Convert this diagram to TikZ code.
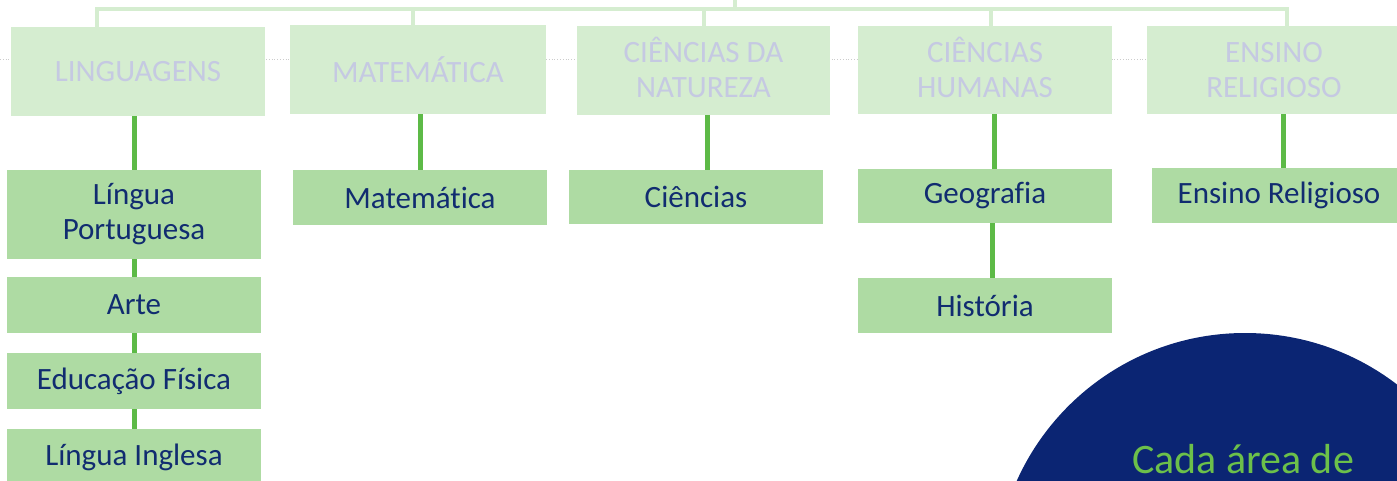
\documentclass[tikz,border=0pt]{standalone}
\usepackage{fontspec}
\setmainfont{Carlito}[Ligatures=NoCommon]
\definecolor{topfill}{HTML}{D5EDD0}
\definecolor{toptext}{HTML}{C5C9E2}
\definecolor{childfill}{HTML}{AEDBA3}
\definecolor{childtext}{HTML}{112C70}
\definecolor{conn}{HTML}{5DBA47}
\definecolor{navy}{HTML}{0B2573}
\definecolor{cadagreen}{HTML}{6CC04A}
\tikzset{
  topbox/.style={rectangle, fill=topfill, inner sep=0pt, align=center, text=toptext,
    minimum width=254pt, minimum height=89pt, font=\fontsize{31}{35}\selectfont},
  childbox/.style={rectangle, fill=childfill, inner sep=0pt, align=center, text=childtext,
    minimum width=254pt, font=\fontsize{31}{35}\selectfont},
  topline/.style={draw=topfill, line width=3.5pt},
  greenline/.style={draw=conn, line width=5pt},
  dotline/.style={draw=black!20, line width=0.8pt, dotted}
}
\begin{document}
\begin{tikzpicture}[x=1pt,y=-1pt]
\useasboundingbox (0,0) rectangle (1397,481);
\clip (0,0) rectangle (1397,481);
% faint dotted guide line
\coordinate (dl) at (0,59);
\coordinate (dr) at (1397,59);
\draw[dotline] (dl) -- (dr);
% top boxes
\node[topbox] (lin) at (138,71.5) {LINGUAGENS};
\node[topbox, minimum width=256pt] (mat) at (418,69.5) {MATEMÁTICA};
\node[topbox, minimum width=253pt] (nat) at (703.5,70.5) {\raisebox{0pt}[20pt]{CIÊNCIAS DA}\\NATUREZA};
\node[topbox, minimum height=88pt] (hum) at (985,70) {\raisebox{0pt}[20pt]{CIÊNCIAS}\\HUMANAS};
\node[topbox, minimum height=88pt] (rel) at (1274,70) {ENSINO\\RELIGIOSO};
% top connector tree
\coordinate (top) at (735,0);
\coordinate (hub) at (735,9);
\draw[topline] (top) -- (hub);
\draw[topline] ([xshift=-41pt]lin.north) |- (hub) -| ([xshift=13pt]rel.north);
\draw[topline] ([xshift=-5pt]mat.north) -- ([xshift=-5pt]mat.north |- hub);
\draw[topline] ([xshift=0.5pt]nat.north) -- ([xshift=0.5pt]nat.north |- hub);
\draw[topline] ([xshift=6pt]hum.north) -- ([xshift=6pt]hum.north |- hub);
% child boxes
\node[childbox, minimum height=89pt] (lp) at (134,214.5) {Língua\\Portuguesa};
\node[childbox, minimum height=56pt] (arte) at (134,305) {Arte};
\node[childbox, minimum height=56pt] (edf) at (134,381) {Educação Física};
\node[childbox, minimum height=56pt] (ing) at (134,457) {Língua Inglesa};
\node[childbox, minimum height=55pt] (matc) at (420,197.5) {Matemática};
\node[childbox, minimum height=54pt] (cie) at (696,197) {Ciências};
\node[childbox, minimum height=54pt] (geo) at (985,196) {Geografia};
\node[childbox, minimum height=55pt] (his) at (985,305.5) {História};
\node[childbox, minimum height=55pt] (erc) at (1279,195.5) {Ensino Religioso};
% green connectors
\draw[greenline] (lp.north) -- (lp.north |- lin.south);
\draw[greenline] (lp.south) -- (arte.north);
\draw[greenline] (arte.south) -- (edf.north);
\draw[greenline] (edf.south) -- (ing.north);
\draw[greenline] (matc.north) -- (matc.north |- mat.south);
\draw[greenline] ([xshift=11pt]cie.north) -- ([xshift=11pt]cie.north |- nat.south);
\draw[greenline] ([xshift=9pt]geo.north) -- ([xshift=9pt]geo.north |- hum.south);
\draw[greenline] ([xshift=7pt]geo.south) -- ([xshift=7pt]his.north);
\draw[greenline] ([xshift=4pt]erc.north) -- ([xshift=4pt]erc.north |- rel.south);
% circle
\coordinate (cc) at (1245,583);
\fill[navy] (cc) circle (250pt);
\node[anchor=base, text=cadagreen, font=\fontsize{42}{48}\selectfont, inner sep=0pt] (cada) at (1243,473) {Cada área de};
\end{tikzpicture}
\end{document}
